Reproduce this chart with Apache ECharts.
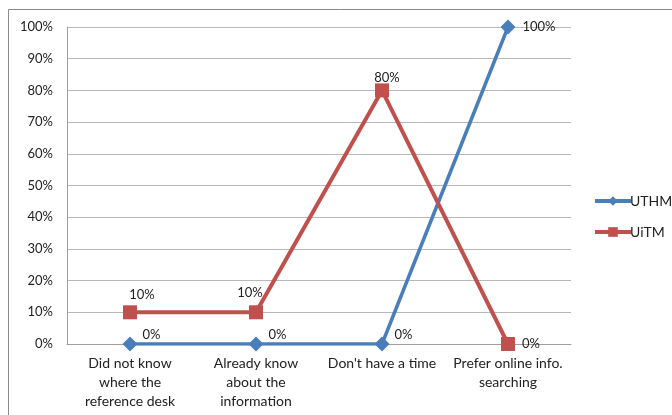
<!DOCTYPE html>
<html><head><meta charset="utf-8">
<script src="https://cdn.jsdelivr.net/npm/echarts@6/dist/echarts.min.js"></script>
<style>html,body{margin:0;padding:0;background:#fff}#c{width:672px;height:415px}</style>
</head><body><div id="c"></div>
<script>
var categories = ['Did not know\nwhere the\nreference desk', 'Already know\nabout the\ninformation', "Don't have a time", 'Prefer online info.\nsearching'];
var uthm = [0, 0, 0, 100];
var uitm = [10, 10, 80, 0];
var yTicks = [0, 10, 20, 30, 40, 50, 60, 70, 80, 90, 100];

var FONT = 'Lato';
var chart = echarts.init(document.getElementById('c'));
function lbl(v, i, name) {
  if (name === 'UTHM') {
    return v === 100 ? {position: 'right', offset: [2, 0]} : {position: 'right', offset: [0, -9]};
  }
  if (i === 3) return {position: 'right', offset: [2, 0]};
  if (i === 0) return {position: 'top', offset: [12, 1]};
  if (i === 2) return {position: 'top', offset: [5, 6]};
  return {position: 'top', offset: [-6, -1]};
}
function mk(arr, name) {
  return arr.map(function (v, i) {
    var l = lbl(v, i, name);
    return {value: v, label: {position: l.position, offset: l.offset}};
  });
}
chart.setOption({
  animation: false,
  graphic: [{type: 'rect', shape: {x: 8.5, y: 9.5, width: 700, height: 430}, style: {fill: 'none', stroke: '#8a8a8a', lineWidth: 1}, silent: true}],
  grid: {left: 67, right: 101, top: 27, bottom: 71},
  legend: {
    orient: 'vertical', left: 588, top: 189, itemGap: 17, itemWidth: 36, itemHeight: 12,
    lineStyle: {width: 4},
    textStyle: {fontFamily: FONT, fontSize: 14, color: '#222', padding: [0, 0, 0, -6]},
    data: [{name: 'UTHM', lineStyle: {width: 4}}, {name: 'UiTM', lineStyle: {width: 4}}]
  },
  xAxis: {
    type: 'category', data: categories, boundaryGap: true,
    axisLine: {lineStyle: {color: '#a0a0a0'}}, axisTick: {show: false},
    axisLabel: {fontFamily: FONT, fontSize: 14, color: '#222', lineHeight: 19, margin: 10, interval: 0}
  },
  yAxis: {
    type: 'value', min: 0, max: 100, interval: 10,
    axisLine: {show: true, lineStyle: {color: '#a0a0a0'}}, axisTick: {show: false},
    splitLine: {lineStyle: {color: '#b8b8b8'}},
    axisLabel: {fontFamily: FONT, fontSize: 13, color: '#222', margin: 14,
      formatter: function (v) { return yTicks.indexOf(v) >= 0 ? v + '%' : ''; }}
  },
  series: [
    {name: 'UTHM', type: 'line', data: mk(uthm, 'UTHM'), symbol: 'diamond', symbolSize: 15,
      lineStyle: {width: 3.5, color: '#4a7ebb'}, itemStyle: {color: '#4a7ebb'},
      label: {show: true, fontFamily: FONT, fontSize: 13, color: '#222', formatter: '{c}%'}},
    {name: 'UiTM', type: 'line', data: mk(uitm, 'UiTM'), symbol: 'rect', symbolSize: 14,
      lineStyle: {width: 4, color: '#c0504d'}, itemStyle: {color: '#c0504d'},
      label: {show: true, fontFamily: FONT, fontSize: 13, color: '#222', formatter: '{c}%'}}
  ]
});
</script></body></html>
